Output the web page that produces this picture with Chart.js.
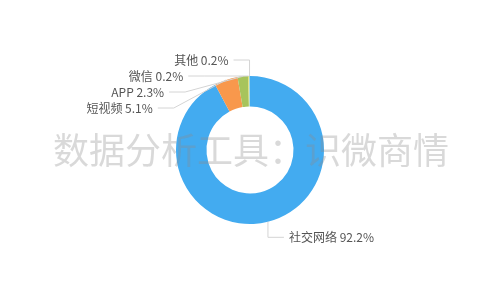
<!DOCTYPE html>
<html>
<head>
<meta charset="utf-8">
<script src="https://cdn.jsdelivr.net/npm/chart.js@4"></script>
<style>
html,body{margin:0;padding:0;background:#fff;}
#wrap{width:500px;height:300px;}
</style>
</head>
<body>
<div id="wrap"><canvas id="c" width="500" height="300"></canvas></div>
<script>
const categories = ['社交网络', '短视频', 'APP', '微信', '其他'];
const values = [92.2, 5.1, 2.3, 0.2, 0.2];
const colors = ['#43abf0', '#f8984c', '#a7c45c', '#e3dc6a', '#8fd3e0'];
const watermarkText = '数据分析工具：识微商情';

const FONT = '"Noto Sans CJK SC", "Noto Sans", sans-serif';

const labelPlugin = {
  id: 'outerLabels',
  afterDatasetsDraw(chart) {
    const ctx = chart.ctx;
    const meta = chart.getDatasetMeta(0);
    const len1 = 16, len2 = 16, gap = 5, lineH = 16, rX = 87;
    const items = [];
    meta.data.forEach((arc, i) => {
      const p = arc.getProps(['x', 'y', 'startAngle', 'endAngle', 'outerRadius'], true);
      const mid = (p.startAngle + p.endAngle) / 2;
      const r = p.outerRadius;
      const cos = Math.cos(mid), sin = Math.sin(mid);
      const p0 = {x: p.x + cos * r, y: p.y + sin * r};
      const y1 = p.y + sin * (r + len1);
      const dir = cos >= 0 ? 1 : -1;
      items.push({i, p0, y: y1, dir, cx: p.x, cy: p.y, r});
    });
    [1, -1].forEach(side => {
      const list = items.filter(it => it.dir === side).sort((a, b) => a.y - b.y);
      for (let k = 1; k < list.length; k++) {
        if (list[k].y < list[k - 1].y + lineH) list[k].y = list[k - 1].y + lineH;
      }
    });
    ctx.save();
    ctx.font = '12px ' + FONT;
    ctx.textBaseline = 'middle';
    items.forEach(it => {
      const dy = it.y - it.cy;
      const rr = Math.abs(dy) >= rX ? 0 : Math.sqrt(rX * rX - dy * dy);
      let x1 = it.cx + it.dir * rr;
      if (it.dir < 0 && x1 > it.p0.x) x1 = it.p0.x;
      if (it.dir > 0 && x1 < it.p0.x) x1 = it.p0.x;
      const x2 = x1 + it.dir * len2;
      ctx.strokeStyle = '#d4d4d4';
      ctx.lineWidth = 1;
      ctx.beginPath();
      ctx.moveTo(it.p0.x, it.p0.y);
      ctx.lineTo(x1, it.y);
      ctx.lineTo(x2, it.y);
      ctx.stroke();
      ctx.fillStyle = '#555555';
      ctx.textAlign = it.dir < 0 ? 'right' : 'left';
      ctx.fillText(categories[it.i] + ' ' + values[it.i] + '%', x2 + it.dir * gap, it.y);
    });
    ctx.restore();
  },
  afterDraw(chart) {
    const ctx = chart.ctx;
    ctx.save();
    ctx.font = '36px ' + FONT;
    ctx.fillStyle = 'rgba(140,140,140,0.33)';
    ctx.textAlign = 'center';
    ctx.textBaseline = 'middle';
    ctx.fillText(watermarkText, 251, 150);
    ctx.restore();
  }
};

new Chart(document.getElementById('c'), {
  type: 'doughnut',
  data: {
    labels: categories,
    datasets: [{
      data: values,
      backgroundColor: colors,
      borderWidth: 0,
      hoverOffset: 0
    }]
  },
  options: {
    responsive: false,
    animation: false,
    radius: 74,
    cutout: '58.8%',
    layout: {padding: 0},
    plugins: {
      legend: {display: false},
      tooltip: {enabled: false}
    }
  },
  plugins: [labelPlugin]
});
</script>
</body>
</html>
